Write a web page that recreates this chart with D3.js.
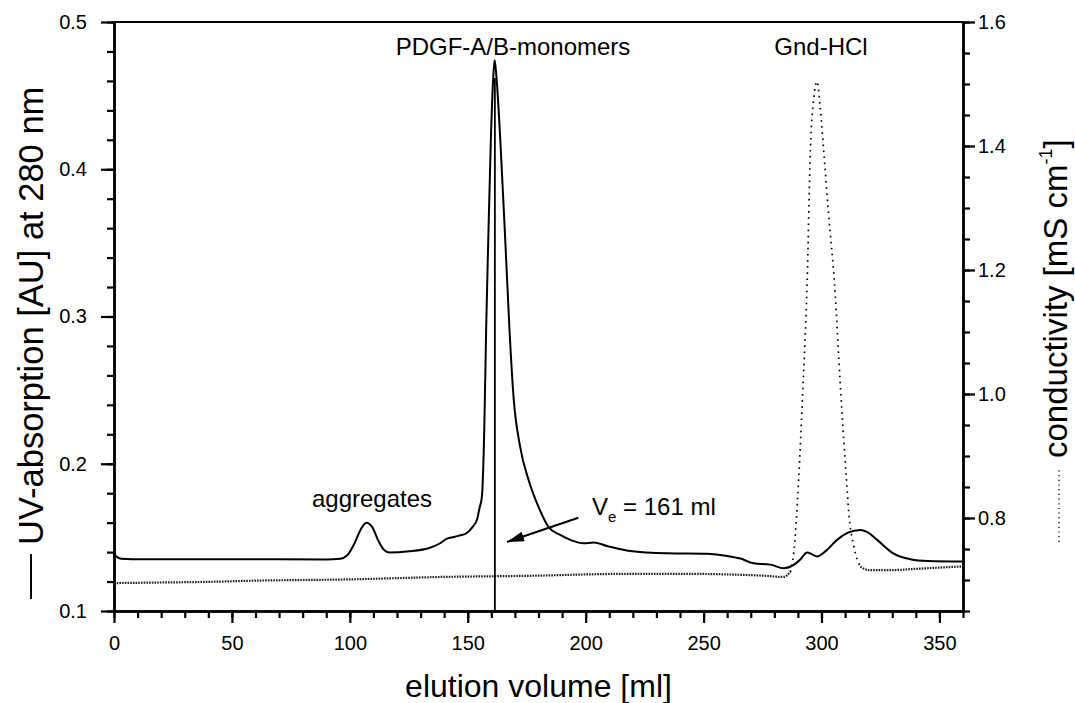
<!DOCTYPE html>
<html><head><meta charset="utf-8">
<script src="https://cdn.jsdelivr.net/npm/d3@7/dist/d3.min.js"></script>
<style>
html,body{margin:0;padding:0;background:#fff;}
svg{display:block;}
text{font-family:"Liberation Sans",Arial,Helvetica,sans-serif;fill:#000;}
</style></head>
<body><svg id="c" width="1075" height="703"></svg>
<script>
// ---- data ----
const uvVolume = [0,1,3,8,50,90,96,99,102,104.5,107,109.5,112,114.5,117,125,134,138.3,141,142.6,146,149.6,152,153.9,155,156,157,157.8,158.7,159.8,160.8,161.4,162.2,163.8,165.9,167.7,169.4,172.2,175.8,180,184.3,189.2,194,199.1,203.4,209,218.9,234.5,251.5,260,265.6,271.2,278.3,284,288.2,291,293.9,296,298.1,302,306.6,311,316.5,320,323.6,330.6,337.7,345,360];
const uvAbs = [0.139,0.137,0.1355,0.1352,0.1352,0.135,0.1355,0.138,0.146,0.155,0.1599,0.157,0.148,0.1415,0.1397,0.1405,0.143,0.146,0.149,0.1497,0.151,0.153,0.157,0.162,0.170,0.1776,0.223,0.291,0.352,0.420,0.462,0.474,0.462,0.420,0.352,0.291,0.2456,0.2116,0.189,0.1707,0.157,0.1517,0.148,0.146,0.1465,0.1442,0.1408,0.1392,0.1388,0.1374,0.1356,0.1324,0.1315,0.129,0.1313,0.135,0.1397,0.1385,0.137,0.141,0.1483,0.153,0.155,0.153,0.1483,0.139,0.1352,0.134,0.1336];
const condVolume = [0,20,40,60,80,100,120,140,160,180,200,220,240,260,275,284,286.8,288.2,290.3,292,293.9,295.3,296.8,298.1,299.5,300.9,303,305.5,308.2,310.6,311.6,313.7,316.5,320,330,340,350,360];
const condValue = [0.695,0.696,0.697,0.699,0.700,0.701,0.703,0.705,0.706,0.707,0.709,0.710,0.710,0.709,0.707,0.705,0.713,0.743,0.861,1.0,1.179,1.394,1.48,1.504,1.46,1.394,1.29,1.179,1.0,0.861,0.8076,0.754,0.7215,0.716,0.716,0.718,0.72,0.722];
const xTicks = [0,50,100,150,200,250,300,350];
const yLeftTicks = [0.1,0.2,0.3,0.4,0.5];
const yRightTicks = [0.8,1.0,1.2,1.4,1.6];
const peakVolume = 161.5;       // V_e drop line
const labels = ["PDGF-A/B-monomers","Gnd-HCl","aggregates"];

// ---- layout ----
const L=114, R=963, T=22, B=611;
const svg = d3.select("#c");
const x = d3.scaleLinear().domain([0,360]).range([L,R]);
const yL = d3.scaleLinear().domain([0.1,0.5]).range([B,T]);
const yR = d3.scaleLinear().domain([0.65,1.6]).range([B,T]);

const axW = 2.5;
function styleAxis(g, fs){
  g.selectAll(".domain").attr("stroke","#000").attr("stroke-width",axW);
  g.selectAll(".tick line").attr("stroke","#000").attr("stroke-width",2.2);
  g.selectAll(".tick text").attr("font-size",fs).attr("font-family",'"Liberation Sans",Arial,sans-serif').attr("fill","#000");
}
// minor ticks
const xMinor = d3.range(0,361,10);
svg.append("g").attr("transform",`translate(0,${B})`)
  .call(d3.axisBottom(x).tickValues(xMinor).tickSize(7).tickSizeOuter(0).tickFormat(""))
  .call(g=>styleAxis(g,20));
svg.append("g").attr("transform",`translate(0,${B})`)
  .call(d3.axisBottom(x).tickValues(xTicks).tickSize(12).tickSizeOuter(0).tickPadding(13).tickFormat(d3.format("d")))
  .call(g=>styleAxis(g,20));
const yLMinor = d3.range(0,21).map(i=>0.1+i*0.02);
svg.append("g").attr("transform",`translate(${L},0)`)
  .call(d3.axisLeft(yL).tickValues(yLMinor).tickSize(7).tickSizeOuter(0).tickFormat(""))
  .call(g=>styleAxis(g,20));
svg.append("g").attr("transform",`translate(${L},0)`)
  .call(d3.axisLeft(yL).tickValues(yLeftTicks).tickSize(13).tickSizeOuter(0).tickPadding(14).tickFormat(d3.format(".1f")))
  .call(g=>styleAxis(g,20));
const yRMinor = d3.range(0,20).map(i=>0.65+i*0.05);
svg.append("g").attr("transform",`translate(${R},0)`)
  .call(d3.axisRight(yR).tickValues(yRMinor).tickSize(7).tickSizeOuter(0).tickFormat(""))
  .call(g=>styleAxis(g,20));
svg.append("g").attr("transform",`translate(${R},0)`)
  .call(d3.axisRight(yR).tickValues(yRightTicks).tickSize(12).tickSizeOuter(0).tickPadding(3).tickFormat(d3.format(".1f")))
  .call(g=>styleAxis(g,20));
// top frame
svg.append("line").attr("x1",L).attr("x2",R).attr("y1",T).attr("y2",T)
  .attr("stroke","#000").attr("stroke-width",2.2);

// ---- series ----
const uvData = uvVolume.map((v,i)=>[v,uvAbs[i]]);
const condData = condVolume.map((v,i)=>[v,condValue[i]]);
const condLine = d3.line().x(d=>x(d[0])).y(d=>yR(d[1])).curve(d3.curveMonotoneX);
// baseline parts: dense dotted band; peak part: sparse dots (same series, split by index)
const iStart = condVolume.indexOf(286.8), iEnd = condVolume.indexOf(316.5);
const condParts = [
  {d: condData.slice(0, iStart+1), dash:"1.6,1.1", w:2.2, c:"#222"},
  {d: condData.slice(iStart, iEnd+1), dash:"1.6,4.5", w:1.7, c:"#000"},
  {d: condData.slice(iEnd), dash:"1.6,1.1", w:2.2, c:"#222"}
];
condParts.forEach(p=>{
  svg.append("path").datum(p.d).attr("d",condLine)
    .attr("fill","none").attr("stroke",p.c).attr("stroke-width",p.w)
    .attr("stroke-dasharray",p.dash);
});
svg.append("path").datum(uvData)
  .attr("d",d3.line().x(d=>x(d[0])).y(d=>yL(d[1])).curve(d3.curveMonotoneX))
  .attr("fill","none").attr("stroke","#000").attr("stroke-width",2)
  .attr("stroke-linejoin","round");
// drop line at V_e
svg.append("line").attr("x1",x(peakVolume)).attr("x2",x(peakVolume))
  .attr("y1",yL(0.1)).attr("y2",yL(0.462))
  .attr("stroke","#000").attr("stroke-width",1.8);

// ---- annotations ----
const fsA = 24;
svg.append("text").attr("x",513).attr("y",55).attr("text-anchor","middle").attr("font-size",fsA).text(labels[0]);
svg.append("text").attr("x",821).attr("y",55).attr("text-anchor","middle").attr("font-size",fsA).text(labels[1]);
svg.append("text").attr("x",372).attr("y",507).attr("text-anchor","middle").attr("font-size",fsA).text(labels[2]);
const ve = svg.append("text").attr("x",592).attr("y",515).attr("font-size",fsA);
ve.append("tspan").text("V");
ve.append("tspan").attr("font-size",15).attr("dy",7).text("e");
ve.append("tspan").attr("dy",-7).text(" = 161 ml");
// arrow
svg.append("defs").append("marker").attr("id","ah").attr("viewBox","0 0 17 10")
  .attr("refX",17).attr("refY",5).attr("markerWidth",17).attr("markerHeight",10)
  .attr("markerUnits","userSpaceOnUse").attr("orient","auto")
  .append("path").attr("d","M0,0 L17,5 L0,10 Z").attr("fill","#000");
svg.append("line").attr("x1",x(196.9)).attr("y1",yL(0.1633)).attr("x2",x(166.7)).attr("y2",yL(0.1469))
  .attr("stroke","#000").attr("stroke-width",2).attr("marker-end","url(#ah)");

// ---- axis titles ----
svg.append("text").attr("x",L+(R-L)/2).attr("y",697).attr("text-anchor","middle")
  .attr("font-size",32).text("elution volume [ml]");
const lt = svg.append("g").attr("transform","translate(43,0) rotate(-90)");
lt.append("line").attr("x1",-599).attr("x2",-554).attr("y1",-12).attr("y2",-12).attr("stroke","#000").attr("stroke-width",2);
lt.append("text").attr("x",-545).attr("y",0).attr("text-anchor","start").attr("font-size",34.5)
  .text("UV-absorption [AU] at 280 nm");
const rt = svg.append("g").attr("transform","translate(1067,0) rotate(-90)");
rt.append("line").attr("x1",-542).attr("x2",-470).attr("y1",-8).attr("y2",-8)
  .attr("stroke","#000").attr("stroke-width",1.3).attr("stroke-dasharray","1.2,3.5");
const rtt = rt.append("text").attr("x",-458).attr("y",0).attr("text-anchor","start").attr("font-size",33);
rtt.append("tspan").text("conductivity [mS cm");
rtt.append("tspan").attr("font-size",18).attr("dy",-15).text("-1");
rtt.append("tspan").attr("dy",15).text("]");
</script></body></html>
